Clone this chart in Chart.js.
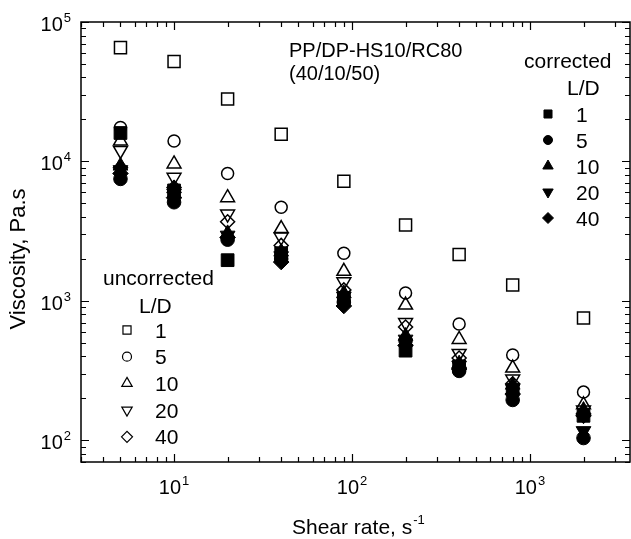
<!DOCTYPE html>
<html>
<head>
<meta charset="utf-8">
<script src="https://cdn.jsdelivr.net/npm/chart.js@4/dist/chart.umd.min.js"></script>
<style>
  html, body { margin: 0; padding: 0; background: #ffffff; overflow: hidden; }
  #grafico { display: block; }
</style>
</head>
<body>
<canvas id="grafico" width="631" height="539"></canvas>
<script>
// taxa de cisalhamento (s^-1)
const shearRate = [5, 10, 20, 40, 90, 200, 400, 800, 2000];

// viscosidade sem correcao (simbolos abertos)
const uncorr1 = [65500, 52000, 28000, 15700, 7200, 3500, 2150, 1300, 755];
const uncorr5 = [17500, 14000, 8200, 4700, 2200, 1140, 684, 410, 222];
const uncorr10 = [14000, 9600, 5500, 3300, 1630, 935, 530, 330, 180];
const uncorr20 = [12000, 7700, 4200, 2870, 1370, 700, 420, 275, 165];
const uncorr40 = [9000, 6500, 3700, 2500, 1200, 650, 390, 255, 155];

// viscosidade corrigida (simbolos cheios)
const corr1 = [16000, 6200, 1960, 2200, 1050, 440, 340, 230, 150];
const corr5 = [7500, 5100, 2750, 2000, 980, 520, 315, 195, 104];
const corr10 = [9300, 6400, 3050, 2250, 1130, 560, 355, 250, 165];
const corr20 = [8700, 5900, 2950, 2100, 1080, 530, 345, 235, 117];
const corr40 = [8200, 5500, 2850, 1900, 920, 480, 325, 215, 150];

const ldLabels = ['1', '5', '10', '20', '40'];
const xTickValues = [10, 100, 1000];
const xTickExps = ['1', '2', '3'];
const yTickValues = [100, 1000, 10000, 100000];
const yTickExps = ['2', '3', '4', '5'];

const fonte = "'Liberation Sans', Arial, sans-serif";

// estilos dos marcadores por L/D (abertos / cheios / legenda)
const marcadores = [
    { pointStyle: 'rect', radius: 8.5, filledRadius: 9, rotation: 0, legendRadius: 5.7 },
    { pointStyle: 'circle', radius: 6, filledRadius: 6.8, rotation: 0, legendRadius: 4.5 },
    { pointStyle: 'triangle', radius: 8, filledRadius: 8.5, rotation: 0, legendRadius: 6 },
    { pointStyle: 'triangle', radius: 8, filledRadius: 8.5, rotation: 180, legendRadius: 6 },
    { pointStyle: 'rectRot', radius: 7, filledRadius: 7.8, rotation: 0, legendRadius: 5.5 }
];

function pontos(valores) {
    return shearRate.map((x, i) => ({ x: x, y: valores[i] }));
}

function serie(valores, idx, cheio) {
    const m = marcadores[idx];
    return {
        data: pontos(valores),
        pointStyle: m.pointStyle,
        pointRadius: cheio ? m.filledRadius : m.radius,
        pointRotation: m.rotation,
        pointBorderColor: '#000000',
        pointBackgroundColor: cheio ? '#000000' : 'rgba(0,0,0,0)',
        pointBorderWidth: cheio ? 1 : 1.5,
        order: cheio ? 1 : 2
    };
}

// desenha "10" com expoente
function textoPotencia(ctx, base, exp, x, y, align, tamBase, tamExp, subida) {
    ctx.font = `${tamBase}px ${fonte}`;
    const wb = ctx.measureText(base).width;
    ctx.font = `${tamExp}px ${fonte}`;
    const we = ctx.measureText(exp).width;
    let x0 = x;
    if (align === 'right') x0 = x - wb - we - 1;
    if (align === 'center') x0 = x - (wb + we + 1) / 2;
    ctx.textAlign = 'left';
    ctx.textBaseline = 'alphabetic';
    ctx.font = `${tamBase}px ${fonte}`;
    ctx.fillText(base, x0, y);
    ctx.font = `${tamExp}px ${fonte}`;
    ctx.fillText(exp, x0 + wb + 1, y - subida);
}

function legendaItem(ctx, idx, cheio, x, y, label, xTexto) {
    const m = marcadores[idx];
    ctx.fillStyle = cheio ? '#000000' : 'rgba(0,0,0,0)';
    ctx.strokeStyle = '#000000';
    ctx.lineWidth = cheio ? 1 : 1.2;
    Chart.helpers.drawPoint(ctx, {
        pointStyle: m.pointStyle,
        radius: m.legendRadius,
        rotation: m.rotation,
        borderWidth: ctx.lineWidth
    }, x, y);
    ctx.fillStyle = '#000000';
    ctx.font = `21px ${fonte}`;
    ctx.textAlign = 'left';
    ctx.textBaseline = 'alphabetic';
    ctx.fillText(label, xTexto, y + 7.5);
}

const eixosPlugin = {
    id: 'eixos',
    afterDraw(chart) {
        const { ctx, chartArea: a, scales } = chart;
        const sx = scales.x;
        const sy = scales.y;
        ctx.save();
        ctx.strokeStyle = '#000000';
        ctx.fillStyle = '#000000';
        ctx.lineWidth = 1.5;
        ctx.strokeRect(a.left, a.top, a.right - a.left, a.bottom - a.top);

        // marcas do eixo x (para dentro, embaixo e em cima)
        ctx.lineWidth = 1.2;
        ctx.beginPath();
        for (let d = 1; d <= 1000; d *= 10) {
            for (let k = 1; k <= 9; k++) {
                const v = k * d;
                if (v < sx.min || v > sx.max) continue;
                const px = Math.round(sx.getPixelForValue(v)) + 0.5;
                const len = k === 1 ? 8 : 5;
                ctx.moveTo(px, a.bottom); ctx.lineTo(px, a.bottom - len);
                ctx.moveTo(px, a.top); ctx.lineTo(px, a.top + len);
            }
        }
        // marcas do eixo y (esquerda e direita)
        for (let d = 10; d <= 100000; d *= 10) {
            for (let k = 1; k <= 9; k++) {
                const v = k * d;
                if (v < sy.min || v > sy.max) continue;
                const py = Math.round(sy.getPixelForValue(v)) + 0.5;
                const len = k === 1 ? 8 : 5;
                ctx.moveTo(a.left, py); ctx.lineTo(a.left + len, py);
                ctx.moveTo(a.right, py); ctx.lineTo(a.right - len, py);
            }
        }
        ctx.stroke();

        // rotulos
        xTickValues.forEach((v, i) => {
            textoPotencia(ctx, '10', xTickExps[i], sx.getPixelForValue(v), 494, 'center', 20, 13, 9);
        });
        yTickValues.forEach((v, i) => {
            textoPotencia(ctx, '10', yTickExps[i], 71, sy.getPixelForValue(v) + 9, 'right', 20, 13, 9);
        });

        // titulos dos eixos
        textoPotencia(ctx, 'Shear rate, s', '-1', 292, 534, 'left', 21, 13, 10);
        ctx.save();
        ctx.translate(25, 259);
        ctx.rotate(-Math.PI / 2);
        ctx.font = `22px ${fonte}`;
        ctx.textAlign = 'center';
        ctx.textBaseline = 'alphabetic';
        ctx.fillText('Viscosity, Pa.s', 0, 0);
        ctx.restore();

        // anotacao
        ctx.font = `20px ${fonte}`;
        ctx.textAlign = 'left';
        ctx.fillText('PP/DP-HS10/RC80', 289, 57);
        ctx.fillText('(40/10/50)', 289, 80);

        // legenda corrigida
        ctx.font = `21px ${fonte}`;
        ctx.fillText('corrected', 524, 68);
        ctx.fillText('L/D', 567, 95);
        ldLabels.forEach((lab, i) => {
            legendaItem(ctx, i, true, 548, 114 + i * 26, lab, 576);
        });

        // legenda sem correcao
        ctx.font = `21px ${fonte}`;
        ctx.fillText('uncorrected', 103, 285);
        ctx.fillText('L/D', 139, 313);
        ldLabels.forEach((lab, i) => {
            legendaItem(ctx, i, false, 127, 330 + i * 26.7, lab, 155);
        });
        ctx.restore();
    }
};

const ctxGrafico = document.getElementById('grafico');

new Chart(ctxGrafico, {
    type: 'scatter',
    data: {
        datasets: [
            serie(uncorr1, 0, false),
            serie(uncorr5, 1, false),
            serie(uncorr10, 2, false),
            serie(uncorr20, 3, false),
            serie(uncorr40, 4, false),
            serie(corr1, 0, true),
            serie(corr5, 1, true),
            serie(corr10, 2, true),
            serie(corr20, 3, true),
            serie(corr40, 4, true)
        ]
    },
    options: {
        responsive: false,
        maintainAspectRatio: false,
        animation: false,
        devicePixelRatio: 1,
        layout: {
            autoPadding: false,
            padding: { left: 81, top: 22, right: 1, bottom: 77 }
        },
        plugins: {
            legend: { display: false },
            tooltip: { enabled: false }
        },
        scales: {
            x: { type: 'logarithmic', min: 3, max: 3650, display: false },
            y: { type: 'logarithmic', min: 70, max: 100000, display: false }
        }
    },
    plugins: [eixosPlugin]
});
</script>
</body>
</html>
